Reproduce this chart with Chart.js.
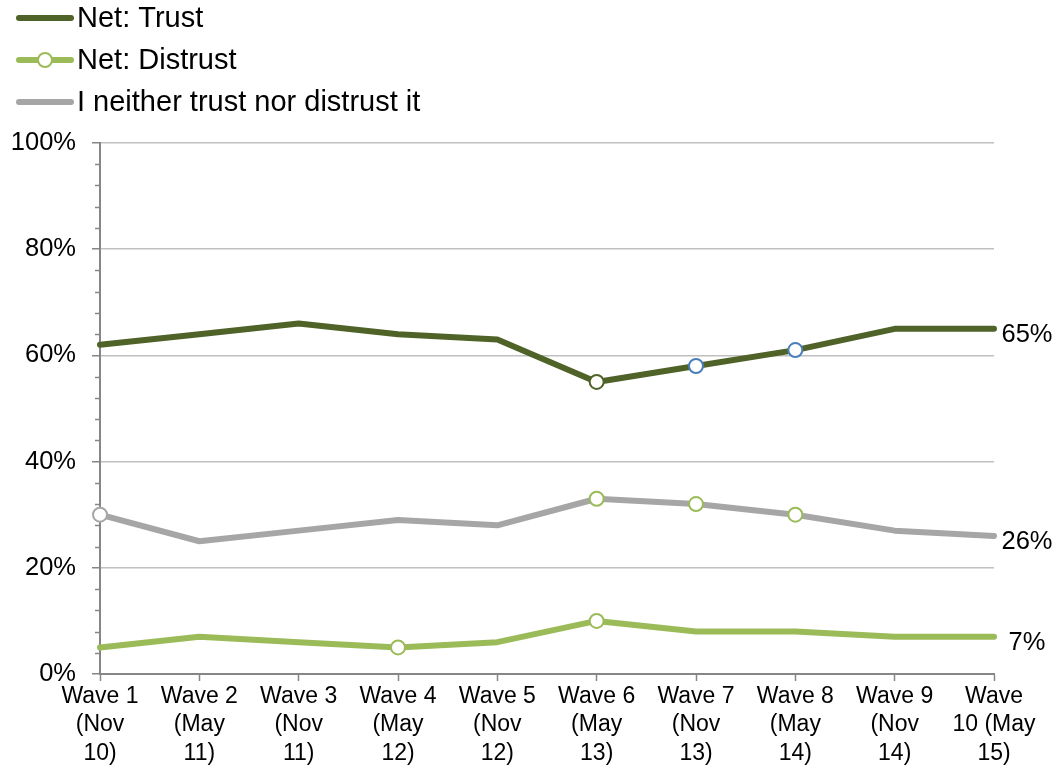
<!DOCTYPE html>
<html>
<head>
<meta charset="utf-8">
<script src="https://cdn.jsdelivr.net/npm/chart.js@4.4.1/dist/chart.umd.min.js"></script>
<style>
  html, body { margin: 0; padding: 0; background: #fff; }
  #wrap { width: 1059px; height: 771px; position: relative; }
</style>
</head>
<body>
<div id="wrap"><canvas id="myChart"></canvas></div>
<script>
// Survey waves
const waveLabels = [
    ['Wave 1', '(Nov', '10)'],
    ['Wave 2', '(May', '11)'],
    ['Wave 3', '(Nov', '11)'],
    ['Wave 4', '(May', '12)'],
    ['Wave 5', '(Nov', '12)'],
    ['Wave 6', '(May', '13)'],
    ['Wave 7', '(Nov', '13)'],
    ['Wave 8', '(May', '14)'],
    ['Wave 9', '(Nov', '14)'],
    ['Wave', '10 (May', '15)']
];

const netTrust = [62, 64, 66, 64, 63, 55, 58, 61, 65, 65];
const netDistrust = [5, 7, 6, 5, 6, 10, 8, 8, 7, 7];
const neither = [30, 25, 27, 29, 28, 33, 32, 30, 27, 26];

const seriesNames = ['Net: Trust', 'Net: Distrust', 'I neither trust nor distrust it'];

const TRUST = '#4F6228';
const DISTRUST = '#9BBB59';
const NEITHER = '#A6A6A6';
const BLUE = '#4A7EBB';
const AXIS = '#868686';
const FONT = '"Liberation Sans", Arial, sans-serif';

// marker colours per point, null = no marker
function markers(list) {
    return {
        radius: list.map(c => c ? 7 : 0),
        border: list.map(c => c || 'transparent')
    };
}
const trustMarks = markers([null, null, null, null, null, TRUST, BLUE, BLUE, null, null]);
const distrustMarks = markers([null, null, null, DISTRUST, null, DISTRUST, null, null, null, null]);
const neitherMarks = markers([NEITHER, null, null, null, null, DISTRUST, DISTRUST, DISTRUST, null, null]);

function lineSet(label, data, color, marks) {
    return {
        label: label,
        data: data,
        borderColor: color,
        backgroundColor: color,
        borderWidth: 6,
        tension: 0,
        borderCapStyle: 'round',
        borderJoinStyle: 'round',
        pointRadius: marks.radius,
        pointHoverRadius: marks.radius,
        pointBackgroundColor: '#ffffff',
        pointBorderColor: marks.border,
        pointBorderWidth: 2,
        clip: false
    };
}

// legend in the top left corner
const legendPlugin = {
    id: 'cornerLegend',
    afterDraw(chart) {
        const ctx = chart.ctx;
        const rows = [18, 60, 102];
        ctx.save();
        ctx.font = '29px ' + FONT;
        ctx.textBaseline = 'middle';
        ctx.textAlign = 'left';
        chart.data.datasets.forEach((ds, i) => {
            const y = rows[i];
            ctx.strokeStyle = ds.borderColor;
            ctx.lineWidth = 6;
            ctx.lineCap = 'round';
            ctx.beginPath();
            ctx.moveTo(19, y);
            ctx.lineTo(71, y);
            ctx.stroke();
            if (i === 1) {
                ctx.beginPath();
                ctx.arc(45, y, 7, 0, Math.PI * 2);
                ctx.fillStyle = '#fff';
                ctx.fill();
                ctx.lineWidth = 2;
                ctx.stroke();
            }
            ctx.fillStyle = '#000';
            ctx.fillText(ds.label, 77, y + 1);
        });
        ctx.restore();
    }
};

// minor ticks on the y axis and value labels after the last wave
const extrasPlugin = {
    id: 'extras',
    afterDraw(chart) {
        const ctx = chart.ctx;
        const y = chart.scales.y;
        const left = chart.chartArea.left;
        ctx.save();
        ctx.strokeStyle = AXIS;
        ctx.lineWidth = 1.5;
        for (let v = 0; v <= 100; v += 4) {
            if (v % 20 === 0) continue;
            const py = Math.round(y.getPixelForValue(v)) + 0.5;
            ctx.beginPath();
            ctx.moveTo(left - 5, py);
            ctx.lineTo(left, py);
            ctx.stroke();
        }
        ctx.font = '25.5px ' + FONT;
        ctx.fillStyle = '#000';
        ctx.textAlign = 'center';
        ctx.textBaseline = 'middle';
        chart.data.datasets.forEach((ds, i) => {
            const meta = chart.getDatasetMeta(i);
            const last = meta.data[meta.data.length - 1];
            const val = ds.data[ds.data.length - 1];
            ctx.fillText(val + '%', last.x + 33, last.y + 6);
        });
        ctx.restore();
    }
};

const ctx = document.getElementById('myChart').getContext('2d');
const myChart = new Chart(ctx, {
    type: 'line',
    data: {
        labels: waveLabels,
        datasets: [
            lineSet(seriesNames[0], netTrust, TRUST, trustMarks),
            lineSet(seriesNames[1], netDistrust, DISTRUST, distrustMarks),
            lineSet(seriesNames[2], neither, NEITHER, neitherMarks)
        ]
    },
    options: {
        responsive: true,
        maintainAspectRatio: false,
        animation: false,
        layout: {
            padding: { top: 143, right: 65, bottom: 0, left: 0 }
        },
        scales: {
            x: {
                offset: false,
                grid: {
                    drawOnChartArea: false,
                    tickLength: 7,
                    tickColor: AXIS,
                    tickWidth: 1.5
                },
                border: { color: AXIS, width: 2 },
                ticks: {
                    color: '#000',
                    font: { family: FONT, size: 23, lineHeight: 1.25 },
                    padding: 1,
                    maxRotation: 0,
                    minRotation: 0,
                    autoSkip: false
                },
                afterFit(scale) { scale.height = 97; }
            },
            y: {
                min: 0,
                max: 100,
                grid: {
                    color: '#C0C0C0',
                    lineWidth: 1.5,
                    tickLength: 8,
                    tickColor: AXIS,
                    tickWidth: 1.5
                },
                border: { color: AXIS, width: 2 },
                ticks: {
                    stepSize: 20,
                    color: '#000',
                    font: { family: FONT, size: 25.5 },
                    padding: 16,
                    callback: function(value) {
                        return value + '%';
                    }
                },
                afterFit(scale) { scale.width = 100; }
            }
        },
        plugins: {
            legend: { display: false },
            tooltip: { enabled: false }
        }
    },
    plugins: [legendPlugin, extrasPlugin]
});
</script>
</body>
</html>
